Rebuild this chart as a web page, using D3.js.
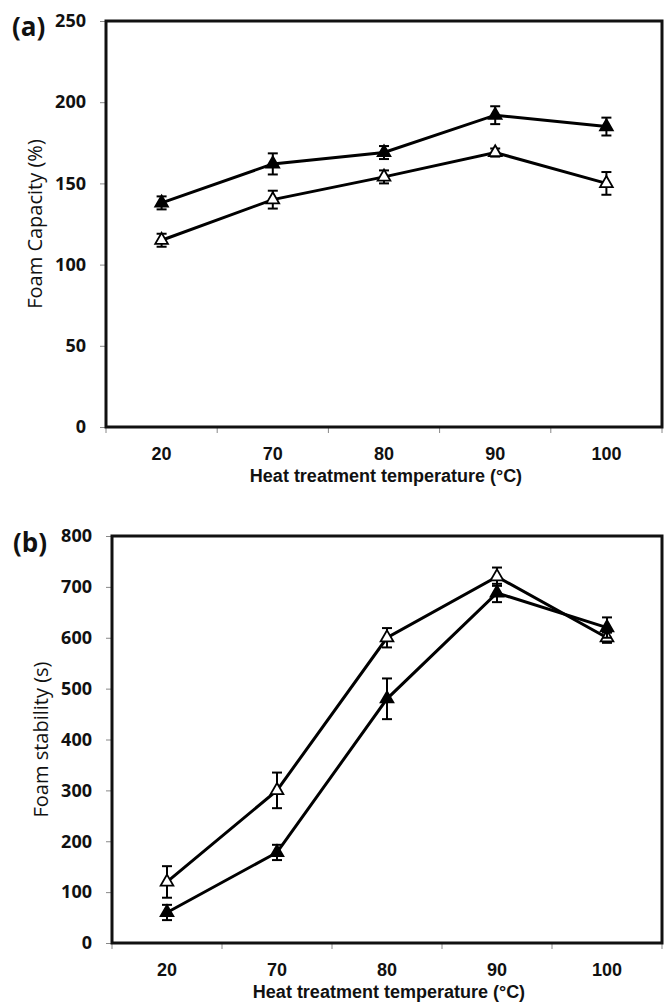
<!DOCTYPE html>
<html>
<head>
<meta charset="utf-8">
<script src="https://cdn.jsdelivr.net/npm/d3@7"></script>
<style>
  html, body { margin: 0; padding: 0; background: #fff; }
  svg { display: block; }
</style>
</head>
<body>
<svg id="chart" width="664" height="1003"></svg>
<script>
// ---------- data ----------
const categories = ["20", "70", "80", "90", "100"];

// Panel (a) Foam capacity (%)
const capacityFilled = [138, 162, 169, 192, 185];
const capacityFilledErr = [4, 6.5, 4, 5.5, 5.5];
const capacityOpen = [115, 140, 154, 169, 150];
const capacityOpenErr = [4, 5.5, 4, 2.5, 7];
const capacityTicks = [0, 50, 100, 150, 200, 250];

// Panel (b) Foam stability (s)
const stabilityFilled = [60, 178, 480, 688, 620];
const stabilityFilledErr = [15, 15, 40, 18, 20];
const stabilityOpen = [120, 300, 600, 720, 600];
const stabilityOpenErr = [31, 35, 19, 18, 10];
const stabilityTicks = [0, 100, 200, 300, 400, 500, 600, 700, 800];

const xTitle = "Heat treatment temperature (°C)";

const svg = d3.select("#chart");

function panel(opts) {
  const { left, right, top, bottom, yMax, ticks, series, yTitle, tag, tagX, tagY, yTitleX } = opts;
  const g = svg.append("g");
  const x = d3.scaleBand().domain(categories).range([left, right]).padding(0);
  const y = d3.scaleLinear().domain([0, yMax]).range([bottom, top]);

  // y ticks (outward, thin grey)
  const yAxis = d3.axisLeft(y).tickValues(ticks).tickSize(6).tickPadding(14);
  const ya = g.append("g").attr("transform", `translate(${left},0)`).call(yAxis);
  ya.select(".domain").remove();
  ya.selectAll(".tick line").attr("stroke", "#888").attr("stroke-width", 1);
  ya.selectAll(".tick text")
    .attr("font-family", "'Open Sans', sans-serif")
    .attr("font-weight", "bold")
    .attr("font-size", 18)
    .attr("fill", "#111");

  // x ticks at category boundaries
  const bounds = categories.map(c => x(c)).concat([right]);
  g.selectAll(".xtick").data(bounds).enter().append("line")
    .attr("x1", d => d).attr("x2", d => d)
    .attr("y1", bottom).attr("y2", bottom + 6)
    .attr("stroke", "#888").attr("stroke-width", 1);

  // x labels
  g.selectAll(".xlab").data(categories).enter().append("text")
    .attr("x", d => x(d) + x.bandwidth() / 2)
    .attr("y", bottom + 33)
    .attr("text-anchor", "middle")
    .attr("font-family", "'Liberation Sans', Arial, sans-serif")
    .attr("font-weight", "bold")
    .attr("font-size", 18)
    .attr("fill", "#111")
    .text(d => d);

  // x title
  g.append("text")
    .attr("x", (left + right) / 2 + 2)
    .attr("y", bottom + 55)
    .attr("text-anchor", "middle")
    .attr("font-family", "'Liberation Sans', Arial, sans-serif")
    .attr("font-weight", "bold")
    .attr("font-size", 18)
    .attr("fill", "#111")
    .text(xTitle);

  // y title
  g.append("text")
    .attr("transform", `translate(${yTitleX},${(top + bottom) / 2}) rotate(-90)`)
    .attr("text-anchor", "middle")
    .attr("font-family", "'Open Sans', sans-serif")
    .attr("font-size", 20)
    .attr("fill", "#111")
    .text(yTitle);

  // tag
  g.append("text")
    .attr("x", tagX).attr("y", tagY)
    .attr("font-family", "'Open Sans', sans-serif")
    .attr("font-weight", "bold")
    .attr("font-size", 26)
    .attr("fill", "#111")
    .text(tag);

  // frame
  g.append("rect")
    .attr("x", left).attr("y", top)
    .attr("width", right - left).attr("height", bottom - top)
    .attr("fill", "none").attr("stroke", "#111").attr("stroke-width", 3);

  const cx = d => x(d) + x.bandwidth() / 2;
  const line = d3.line().x((d, i) => cx(categories[i])).y(d => y(d));

  series.forEach(s => {
    const sg = g.append("g");
    sg.append("path").datum(s.values)
      .attr("d", line).attr("fill", "none")
      .attr("stroke", "#000").attr("stroke-width", 3);
    // error bars
    s.values.forEach((v, i) => {
      const xc = cx(categories[i]);
      const e = s.errors[i];
      sg.append("line").attr("x1", xc).attr("x2", xc)
        .attr("y1", y(v - e)).attr("y2", y(v + e))
        .attr("stroke", "#000").attr("stroke-width", 2);
      [v - e, v + e].forEach(vv => {
        sg.append("line").attr("x1", xc - 5).attr("x2", xc + 5)
          .attr("y1", y(vv)).attr("y2", y(vv))
          .attr("stroke", "#000").attr("stroke-width", 2);
      });
    });
    // markers
    const tri = d3.symbol().type(d3.symbolTriangle).size(70);
    sg.selectAll(".m").data(s.values).enter().append("path")
      .attr("d", tri)
      .attr("transform", (d, i) => `translate(${cx(categories[i])},${y(d)})`)
      .attr("fill", s.filled ? "#000" : "#fff")
      .attr("stroke", "#000").attr("stroke-width", 1.8);
  });
}

panel({
  left: 106, right: 662, top: 21, bottom: 427, yMax: 250,
  ticks: capacityTicks,
  series: [
    { values: capacityOpen, errors: capacityOpenErr, filled: false },
    { values: capacityFilled, errors: capacityFilledErr, filled: true }
  ],
  yTitle: "Foam Capacity (%)", tag: "(a)", tagX: 12, tagY: 36, yTitleX: 42
});

panel({
  left: 112, right: 662, top: 536, bottom: 943, yMax: 800,
  ticks: stabilityTicks,
  series: [
    { values: stabilityOpen, errors: stabilityOpenErr, filled: false },
    { values: stabilityFilled, errors: stabilityFilledErr, filled: true }
  ],
  yTitle: "Foam stability (s)", tag: "(b)", tagX: 13, tagY: 552, yTitleX: 48
});
</script>
</body>
</html>
